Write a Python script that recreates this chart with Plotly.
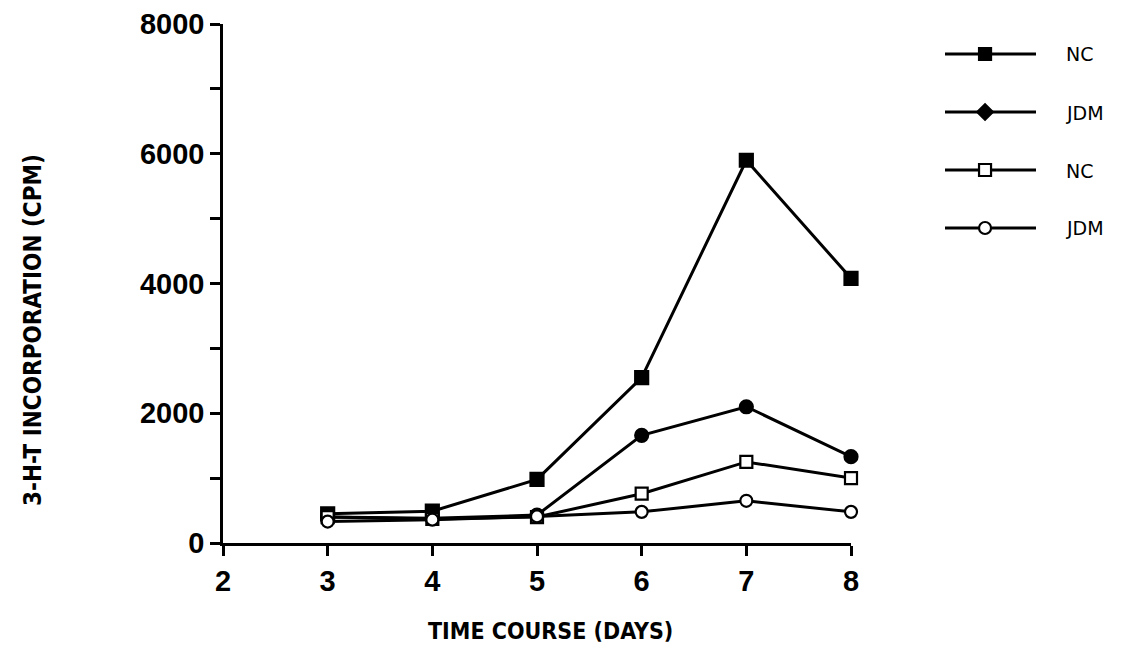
import plotly.graph_objects as go

# Time course of 3-H-T incorporation
days = [3, 4, 5, 6, 7, 8]
nc_stim = [450, 490, 980, 2550, 5900, 4080]
jdm_stim = [400, 380, 430, 1660, 2100, 1330]
nc_base = [400, 370, 400, 760, 1250, 1000]
jdm_base = [330, 360, 410, 480, 650, 480]

series_names = ["NC", "JDM", "NC", "JDM"]
series_values = [nc_stim, jdm_stim, nc_base, jdm_base]
symbols = ["square", "circle", "square-open", "circle-open"]
legend_symbols = ["square", "diamond", "square-open", "circle-open"]
marker_sizes = [13, 13, 12, 12]

y_ticks = [0, 2000, 4000, 6000, 8000]
x_ticks = [2, 3, 4, 5, 6, 7, 8]

W, H = 1126, 667
fig = go.Figure()

for name, vals, sym, ms in zip(series_names, series_values, symbols, marker_sizes):
    open_marker = sym.endswith("open")
    fig.add_trace(go.Scatter(
        x=days, y=vals, name=name, mode="lines+markers",
        line=dict(color="black", width=3),
        marker=dict(symbol=sym.replace("-open", ""), size=ms,
                    color="white" if open_marker else "black",
                    line=dict(color="black", width=2.2)),
        cliponaxis=False, showlegend=False,
    ))

# Hand-drawn key: a line sample with a centred marker per row
row_px = [54, 113, 171, 228]
for i, (name, sym) in enumerate(zip(series_names, legend_symbols)):
    open_marker = sym.endswith("open")
    row = 3 - i
    fig.add_trace(go.Scatter(
        x=[0, 1], y=[row, row], mode="lines", xaxis="x2", yaxis="y2",
        line=dict(color="black", width=3),
        showlegend=False, hoverinfo="skip",
    ))
    fig.add_trace(go.Scatter(
        x=[0.44], y=[row], mode="markers", xaxis="x2", yaxis="y2",
        marker=dict(symbol=sym.replace("-open", ""), size=12,
                    color="white" if open_marker else "black",
                    line=dict(color="black", width=2.2)),
        cliponaxis=False, showlegend=False, hoverinfo="skip",
    ))
    fig.add_annotation(
        x=1064 / W, y=1 - row_px[i] / H, xref="paper", yref="paper",
        text=name, showarrow=False, xanchor="left", yanchor="middle",
        font=dict(family="DejaVu Sans", size=19, color="black"),
    )

axis_font = dict(family="Liberation Sans", size=29, color="black", weight="bold")
title_font = dict(family="DejaVu Sans Condensed", size=24, color="black", weight="bold")

# Axis titles placed as paper annotations
fig.add_annotation(
    x=33 / W, y=1 - 330 / H, xref="paper", yref="paper",
    text="3-H-T INCORPORATION (CPM)", textangle=-90, showarrow=False,
    xanchor="center", yanchor="middle", font=title_font,
)
fig.add_annotation(
    x=550 / W, y=1 - 631 / H, xref="paper", yref="paper",
    text="TIME COURSE (DAYS)", showarrow=False,
    xanchor="center", yanchor="middle", font=dict(title_font, size=23),
)

fig.update_layout(
    width=W, height=H,
    margin=dict(l=0, r=0, t=0, b=0),
    paper_bgcolor="white", plot_bgcolor="white",
    xaxis=dict(
        domain=[223 / W, 851 / W], range=[2, 8],
        tickmode="array", tickvals=x_ticks, ticktext=[str(v) for v in x_ticks],
        ticks="outside", ticklen=10, tickwidth=2.5, tickcolor="black",
        showline=True, linecolor="black", linewidth=2.5,
        showgrid=False, zeroline=False, tickfont=axis_font,
        automargin=False,
    ),
    yaxis=dict(
        domain=[1 - 543 / H, 1 - 24 / H], range=[0, 8000],
        tickmode="array", tickvals=y_ticks, ticktext=[str(v) for v in y_ticks],
        ticks="outside", ticklen=10, tickwidth=2.5, tickcolor="black",
        minor=dict(dtick=1000, tick0=0, ticks="outside", ticklen=10,
                   tickwidth=2.5, tickcolor="black", showgrid=False),
        showline=True, linecolor="black", linewidth=2.5,
        showgrid=False, zeroline=False, tickfont=axis_font,
        automargin=False,
    ),
    xaxis2=dict(domain=[945 / W, 1036 / W], range=[0, 1], visible=False,
                anchor="y2"),
    yaxis2=dict(domain=[1 - 257 / H, 1 - 25 / H], range=[-0.5, 3.5], visible=False,
                anchor="x2"),
)

fig.write_html("out.html")
